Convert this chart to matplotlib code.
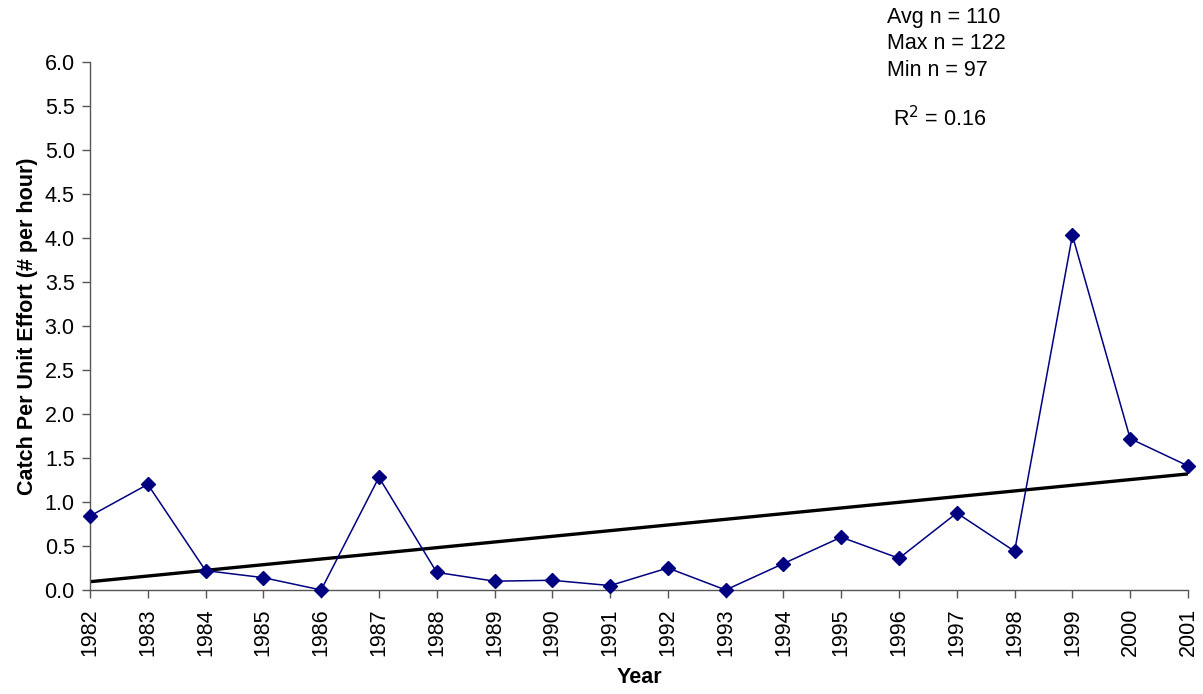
import numpy as np
import matplotlib
matplotlib.use("Agg")
import matplotlib.pyplot as plt

plt.rcParams['font.family'] = ['Liberation Sans', 'DejaVu Sans']

years = list(range(1982, 2002))
cpue = [0.84, 1.20, 0.22, 0.14, 0.00, 1.28, 0.20, 0.10, 0.11, 0.05,
        0.25, 0.00, 0.30, 0.60, 0.36, 0.875, 0.44, 4.03, 1.72, 1.41]
notes = ["Avg n = 110", "Max n = 122", "Min n = 97"]
r2_text = "R$^2$ = 0.16"

fig = plt.figure(figsize=(12.03, 6.94), dpi=100)
ax = fig.add_axes([0.0748, 0.1499, 0.9127, 0.7608])

# linear trend fitted to the series
slope, icpt = np.polyfit(years, cpue, 1)
trend = [slope * y + icpt for y in years]
ax.plot([years[0], years[-1]], [trend[0], trend[-1]], color='black', lw=2.4, zorder=2)

ax.plot(years, cpue, color='#000080', lw=1.1, marker='D', markersize=7.2,
        clip_on=False, zorder=3)

ax.set_xlim(years[0], years[-1])
ax.set_ylim(0, 6.0)
ax.set_xticks(years)
ax.set_xticklabels([str(y) for y in years], rotation=90)
yt = np.arange(0, 6.01, 0.5)
ax.set_yticks(yt)
ax.set_yticklabels(['%.1f' % v for v in yt])
ax.tick_params(labelsize=15.5, labelcolor='black', color='#555555', length=6, width=1)
ax.tick_params(axis='x', pad=7)
ax.tick_params(axis='y', pad=5)

for s in ['top', 'right']:
    ax.spines[s].set_visible(False)
for s in ['left', 'bottom']:
    ax.spines[s].set_color('#555555')
    ax.spines[s].set_linewidth(1)

ax.set_ylabel('Catch Per Unit Effort (# per hour)', fontsize=15.5, fontweight='bold')
ax.yaxis.set_label_coords(-62 / 1098, 0.5)
ax.set_xlabel('Year', fontsize=15.5, fontweight='bold')
ax.xaxis.set_label_coords(0.5, -(678 - 590) / 528)
ax.xaxis.label.set_va('center')
ax.yaxis.label.set_va('center')

for i, t in enumerate(notes):
    fig.text(887 / 1203, 1 - (17 + 26.5 * i) / 694, t, fontsize=15.5, va='center', ha='left')
fig.text(893 / 1203, 1 - 119 / 694, r2_text, fontsize=15.5, va='center', ha='left')

fig.savefig('out.png', dpi=100)
